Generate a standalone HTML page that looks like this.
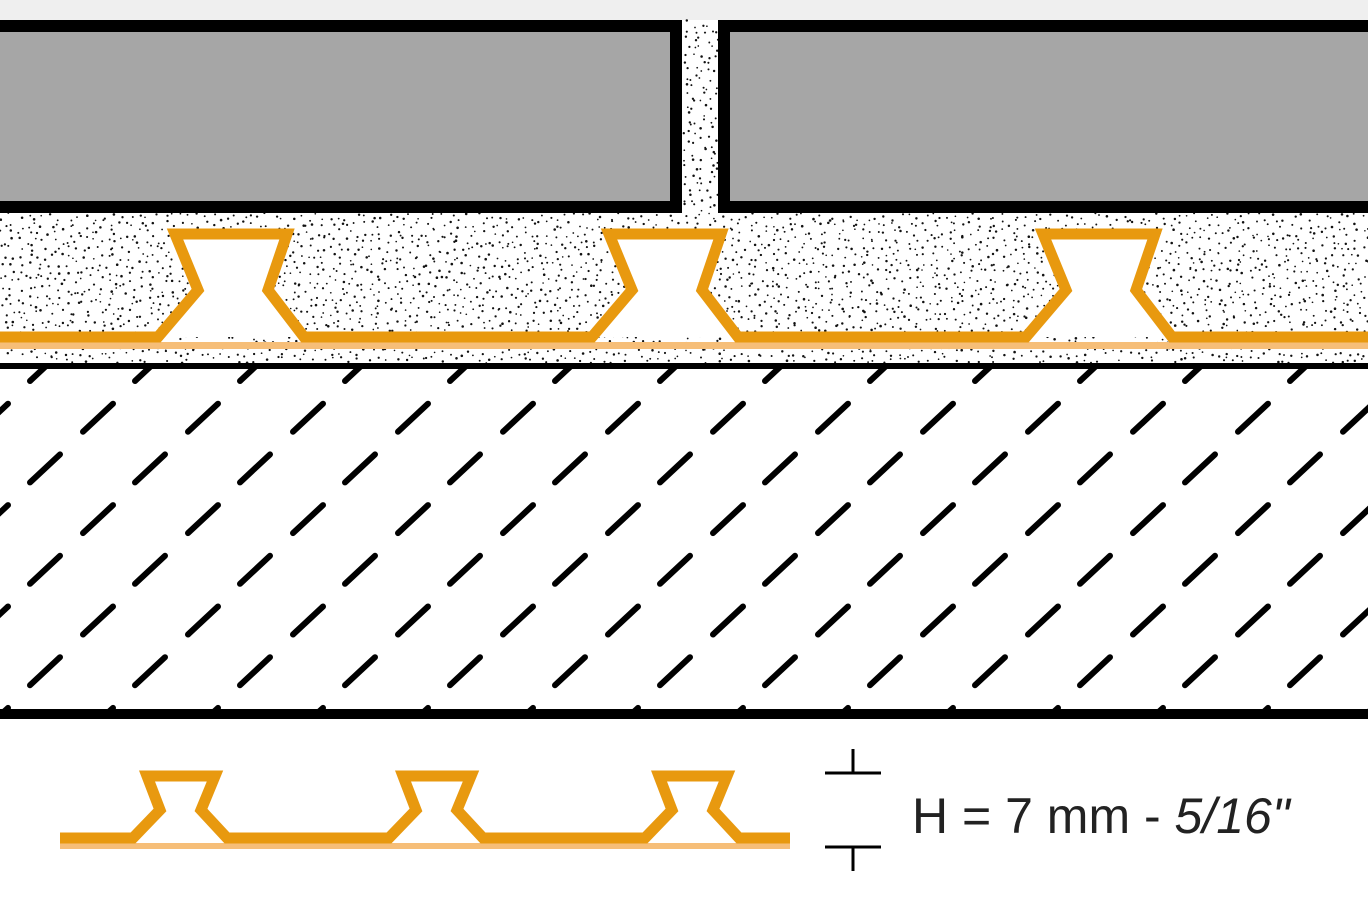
<!DOCTYPE html>
<html><head><meta charset="utf-8"><style>
html,body{margin:0;padding:0;background:#fff;}
svg{display:block;}
</style></head><body>
<svg id="s" width="1368" height="912" viewBox="0 0 1368 912" xmlns="http://www.w3.org/2000/svg">
<defs>
<clipPath id="cc"><rect x="0" y="367" width="1368" height="344"/></clipPath>
</defs>
<rect x="0" y="0" width="1368" height="20" fill="#efefef"/>
<g id="dots" fill="#111"></g>
<rect x="-20" y="20" width="702" height="193" fill="#000"/>
<rect x="-20" y="32" width="690" height="169" fill="#a6a6a6"/>
<rect x="718" y="20" width="700" height="193" fill="#000"/>
<rect x="730" y="32" width="700" height="169" fill="#a6a6a6"/>
<g id="mem"></g>
<rect x="0" y="363" width="1368" height="6" fill="#000"/>
<rect x="0" y="709" width="1368" height="10" fill="#000"/>
<g id="dash" clip-path="url(#cc)" stroke="#000" stroke-width="6" stroke-linecap="round"></g>
<g id="leg"></g>
<g stroke="#000" stroke-width="3">
<line x1="825" y1="773" x2="881" y2="773"/><line x1="853" y1="749" x2="853" y2="773"/>
<line x1="825" y1="847" x2="881" y2="847"/><line x1="853" y1="847" x2="853" y2="871"/>
</g>
<text x="912" y="833" font-family="Liberation Sans, sans-serif" font-size="50" fill="#222">H = 7 mm - <tspan font-style="italic">5/16"</tspan></text>
</svg>
<script>
(function(){
var seed=12345;function r(){seed=(seed*16807)%2147483647;return seed/2147483647;}
var g=document.getElementById('dots');var h='';
function dots(x0,y0,w,hh,sp){for(var y=y0;y<y0+hh;y+=sp){for(var x=x0;x<x0+w;x+=sp){var px=x+r()*sp,py=y+r()*sp;if(py>y0+hh||px>x0+w)continue;h+='<circle cx="'+px.toFixed(1)+'" cy="'+py.toFixed(1)+'" r="'+(0.8+r()*0.5).toFixed(2)+'"/>';}}}
dots(0,213,1368,150,8);
dots(682,20,36,193,8);
g.innerHTML=h;
var O="#e8990f",L="#f6be78";
function membrane(gid,y,x0,x1,dts,sw,lightY,lightW){
 var d='M'+x0+' '+y;var fills='';
 dts.forEach(function(p){
  d+=' L'+p[0][0]+' '+y;
  p.forEach(function(q,i){if(i>0)d+=' L'+q[0]+' '+q[1];});
  var pts=p.map(function(q){return q.join(',')}).join(' ');
  fills+='<polygon points="'+pts+'" fill="#fff"/>';
 });
 d+=' L'+x1+' '+y;
 var s=fills+'<rect x="'+x0+'" y="'+lightY+'" width="'+(x1-x0)+'" height="'+lightW+'" fill="'+L+'"/>'+
 '<path d="'+d+'" fill="none" stroke="'+O+'" stroke-width="'+sw+'" stroke-linejoin="miter" stroke-miterlimit="10"/>';
 document.getElementById(gid).innerHTML=s;
}
var big=[];[-434,0,434].forEach(function(o){
 big.push([[592+o,337],[632+o,290],[609+o,234],[721+o,234],[702+o,290],[738+o,337]]);
});
membrane('mem',337,-10,1378,big,11,342,7);
var sm=[];[0,256,512].forEach(function(o){
 sm.push([[133+o,838],[160+o,810],[147+o,776],[215+o,776],[201+o,810],[227+o,838]]);
});
membrane('leg',838,60,790,sm,11,843,6);
var dh='';
for(var k=0;k<8;k++){
 var yc=367+k*50.7;var xs=(k%2==0)?30:-22;
 for(var x=xs;x<1400;x+=105){dh+='<line x1="'+x+'" y1="'+(yc+14)+'" x2="'+(x+30)+'" y2="'+(yc-14)+'"/>';}
}
document.getElementById('dash').innerHTML=dh;
})();
</script>
</body></html>
